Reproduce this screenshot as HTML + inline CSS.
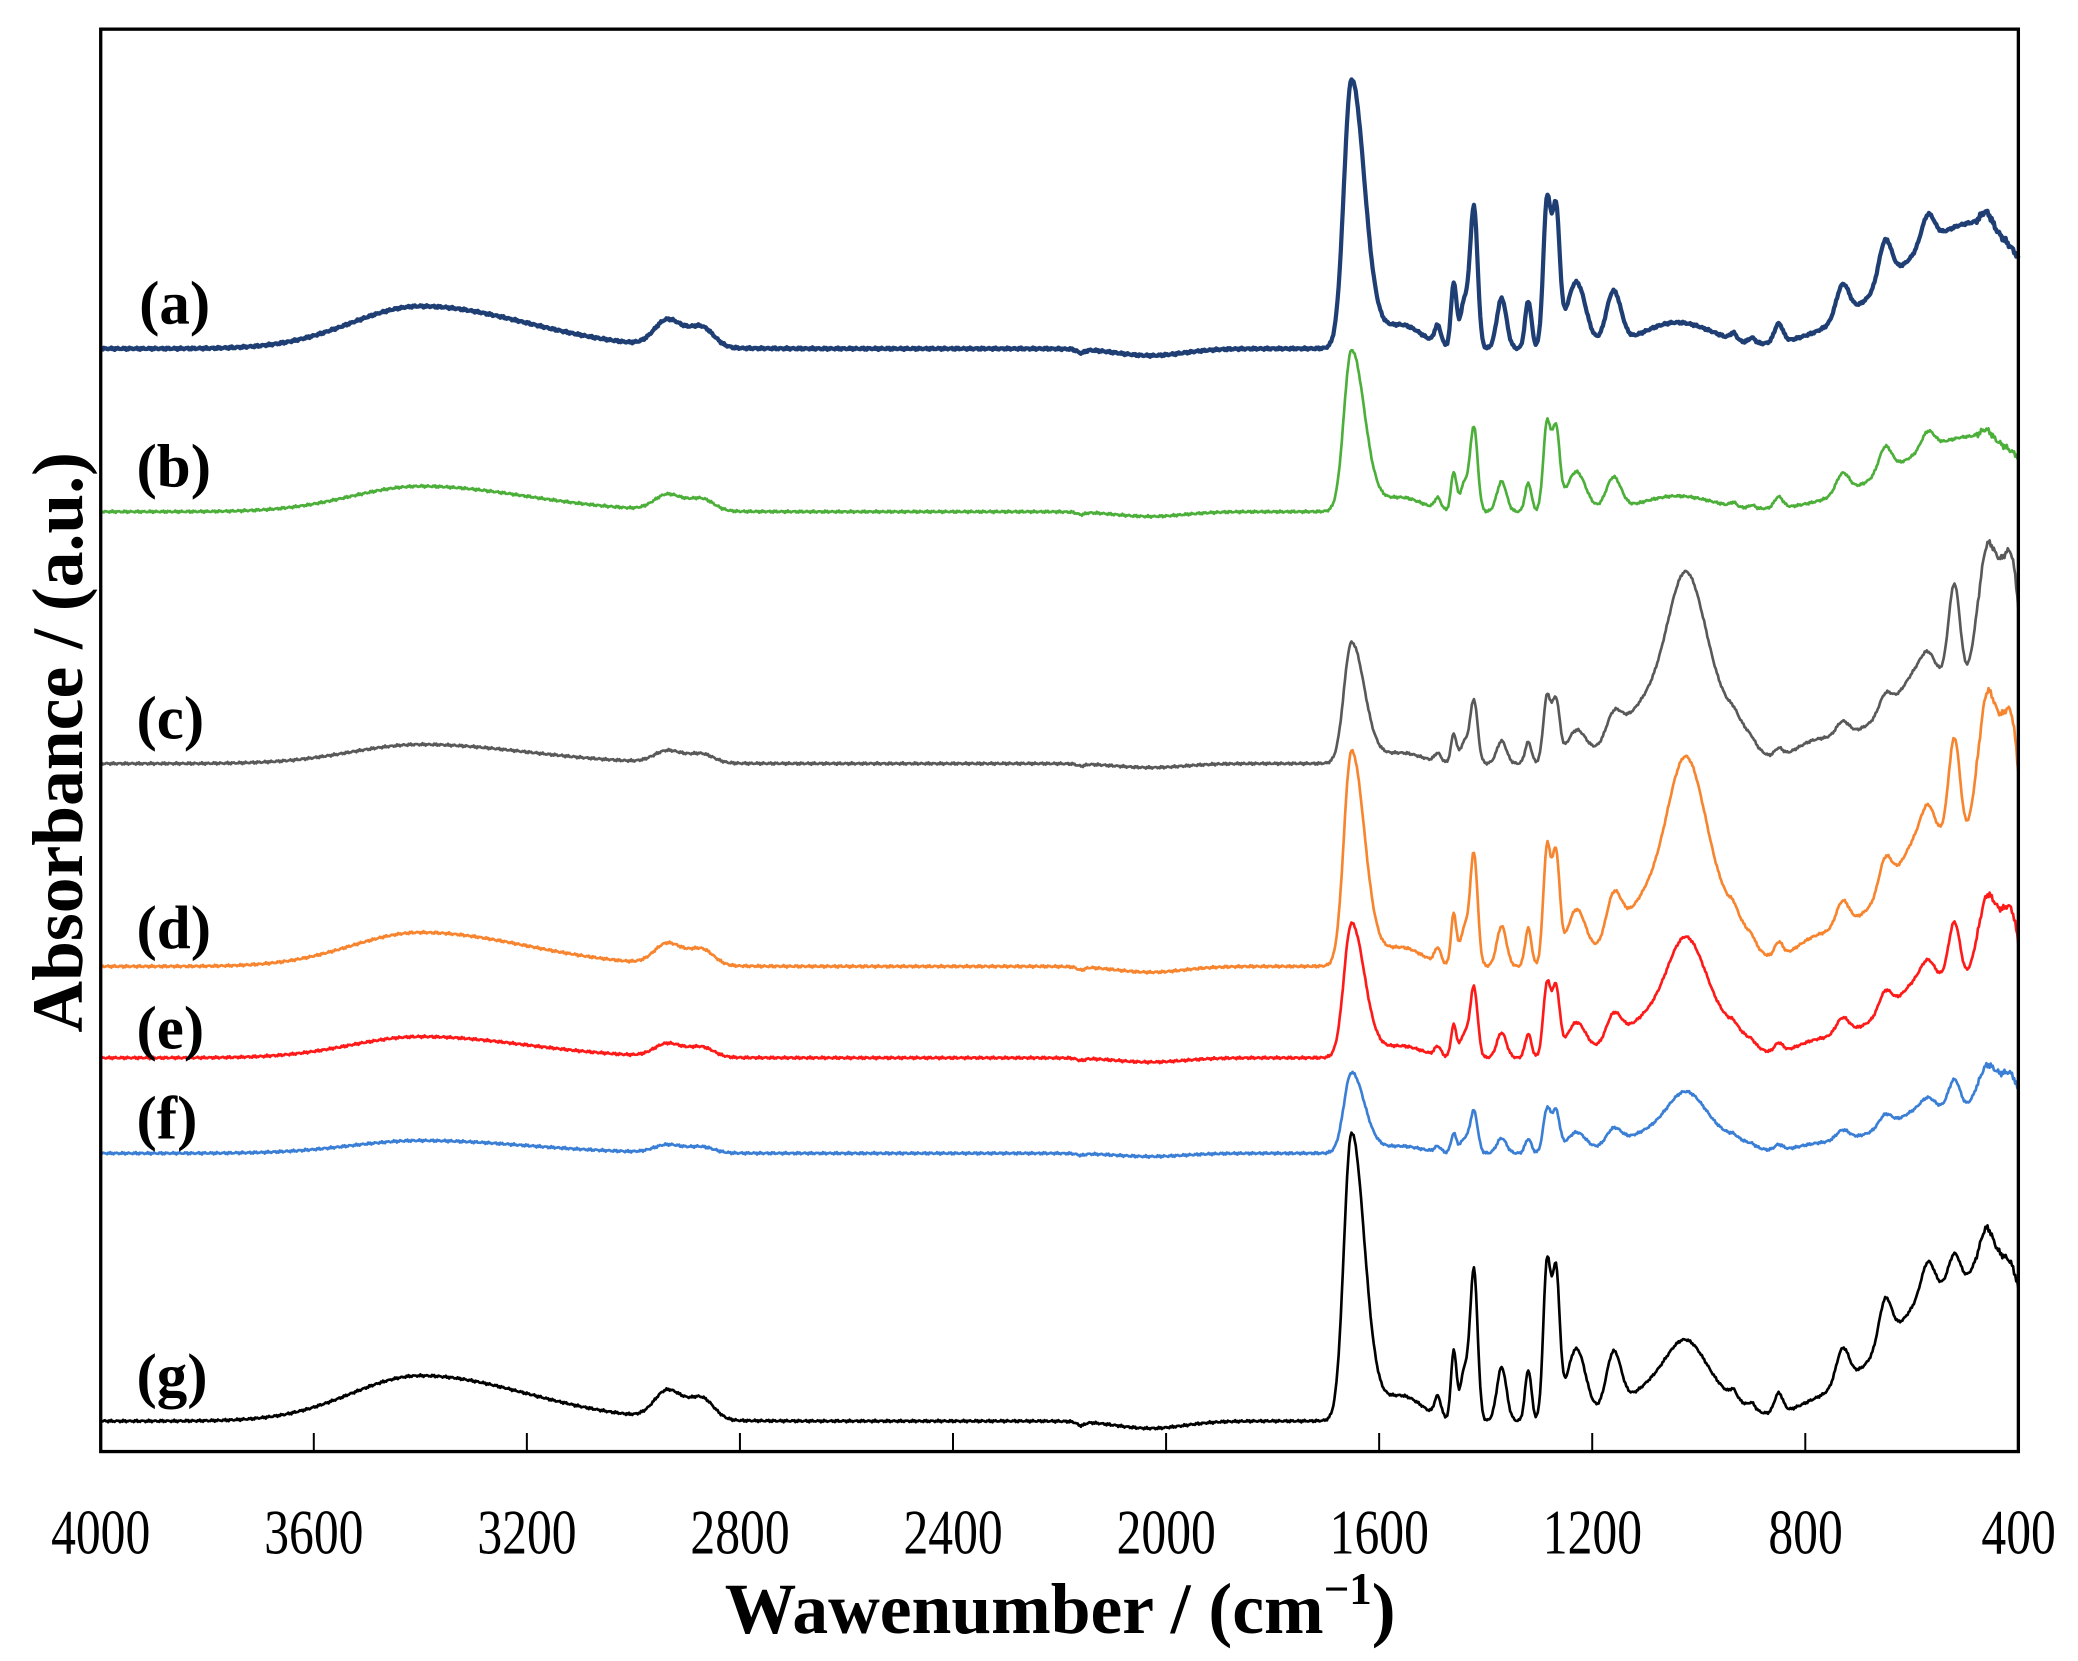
<!DOCTYPE html>
<html><head><meta charset="utf-8"><style>
html,body{margin:0;padding:0;background:#fff;}
svg{display:block;}
text{font-family:"Liberation Serif","Times New Roman",serif;}
</style></head><body>
<svg id="s" width="2078" height="1661" viewBox="0 0 1568 1253" preserveAspectRatio="none" xmlns="http://www.w3.org/2000/svg">
<rect x="0" y="0" width="1568" height="1253" fill="#fff"/>
<g id="series" fill="none" stroke-linejoin="round"></g>
<rect x="76" y="22" width="1447" height="1073" fill="none" stroke="#000" stroke-width="2.5"/>
<g id="ticks" stroke="#000" stroke-width="1.5"></g>
<g font-size="48" text-anchor="middle" fill="#000" transform="scale(0.78,1)">
<text x="97.4" y="1172">4000</text>
<text x="303.6" y="1172">3600</text>
<text x="509.8" y="1172">3200</text>
<text x="715.9" y="1172">2800</text>
<text x="922" y="1172">2400</text>
<text x="1128.2" y="1172">2000</text>
<text x="1334.3" y="1172">1600</text>
<text x="1540.5" y="1172">1200</text>
<text x="1746.7" y="1172">800</text>
<text x="1952.8" y="1172">400</text>
</g>
<text x="800" y="1232" font-size="54" font-weight="bold" text-anchor="middle">Wawenumber / (cm<tspan font-size="34" dy="-22">−1</tspan><tspan dy="22">)</tspan></text>
<text transform="translate(62,560) rotate(-90)" font-size="54" font-weight="bold" text-anchor="middle">Absorbance / (a.u.)</text>
<g font-size="46" font-weight="bold" fill="#000">
<text x="105" y="244">(a)</text>
<text x="103" y="367">(b)</text>
<text x="103" y="557">(c)</text>
<text x="103" y="715">(d)</text>
<text x="103" y="791">(e)</text>
<text x="103" y="859">(f)</text>
<text x="103" y="1053">(g)</text>
</g>
</svg>
<script>
(function(){
function X(w){return 76+(4000-w)*1447/3600;}
var tg=document.getElementById('ticks'),h='';
for(var w=3600;w>=800;w-=400){var x=X(w);h+='<line x1="'+x+'" y1="1095" x2="'+x+'" y2="1081"/>';}
tg.innerHTML=h;
function G(w,c,a,s1,s2){var s=(w>c)?s1:(s2||s1);var d=(w-c)/s;return a*Math.exp(-0.5*d*d);}
var P=[[3400,32,130,200],[2935,20,25,30],[2870,14,22,22],[1652,200,14,24],[1560,18,50,40],[1490,14,6],[1460,48,5],[1440,35,8],[1422,105,7],
[1370,38,9],[1320,36,6],[1285,110,7],[1268,100,7],[1230,50,18],[1160,40,14],[1060,14,60],[1000,8,60],[935,5,6],[900,4,6],[850,14,8],
[480,95,150,100],[730,25,12],[650,32,12],[570,22,12],[460,10,10]];
var S=[[1090,40,60],[1020,115,35,40],[930,25,30],[780,12,40],[680,10,40],[580,40,40],[520,80,11],[455,120,22,30],[410,80,15]];
function val(list,w){var v=0;for(var i=0;i<list.length;i++){var p=list[i];v+=G(w,p[0],p[1],p[2],p[3]);}return v;}
function dip(w){return 4*Math.exp(-Math.pow((w-2030)/90,2))+2*Math.exp(-Math.pow((w-2160)/10,2));}
var cfg=[
['#1f3f74',263,1.0,0,3.2],
['#4caf3a',386,0.6,0,2],
['#595959',576,0.45,1.0,2],
['#f7852f',729,0.8,1.05,2],
['#ff1a1a',798,0.5,0.6,2],
['#3a7fd5',870,0.3,0.3,2],
['#000000',1072,1.07,0.3,2]];
var g=document.getElementById('series'),out='';
cfg.forEach(function(c,k){
 var d='';
 for(var w=4000;w>=400;w-=2){
  var n=0.8*Math.sin(w*1.7+k*3)+0.6*Math.sin(w*0.53+k);
  if(w<480) n*=2.5;
  var y=c[1]-c[2]*val(P,w)-c[3]*val(S,w)+dip(w)*(c[2]+0.3)+n*0.7;
  d+=(w==4000?'M':'L')+X(w).toFixed(1)+' '+y.toFixed(1);
 }
 out+='<path d="'+d+'" stroke="'+c[0]+'" stroke-width="'+c[4]+'"/>';
});
g.innerHTML=out;
})();
</script>
</body></html>
